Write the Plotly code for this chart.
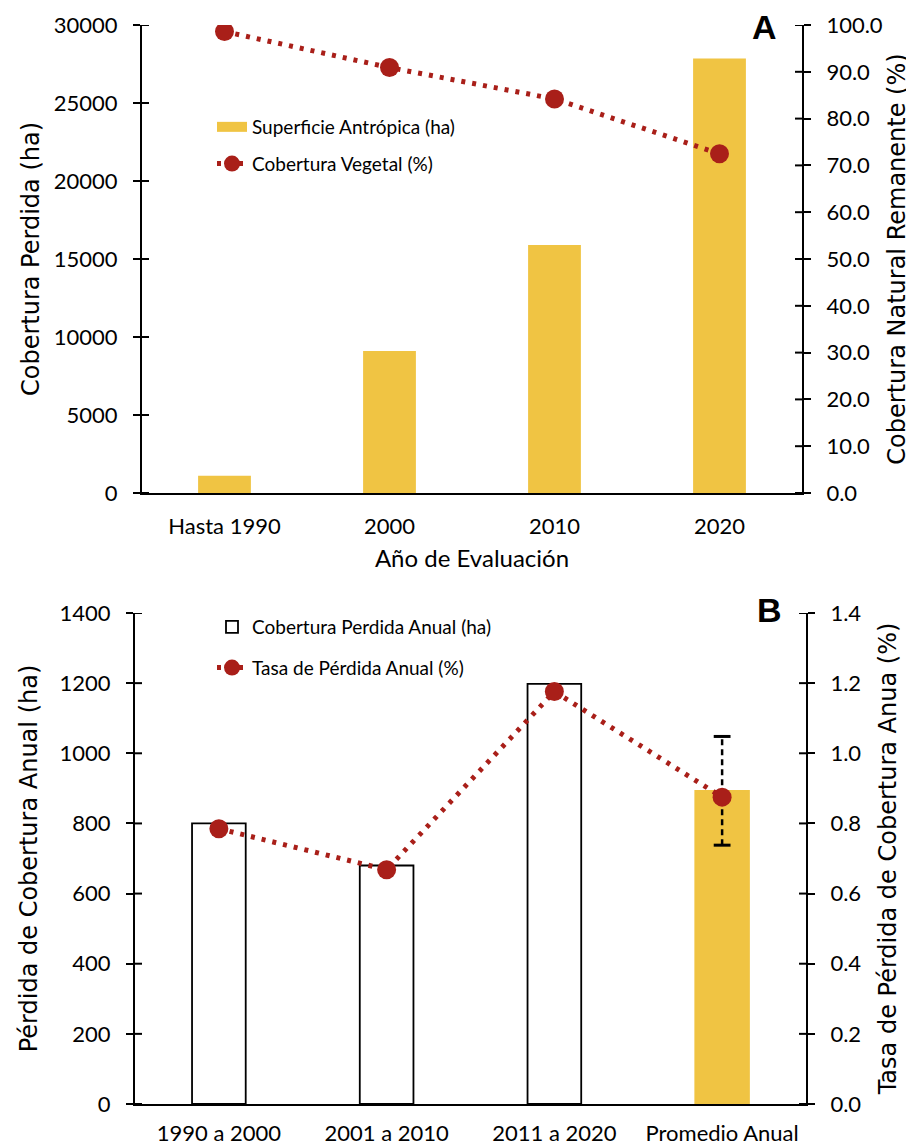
import plotly.graph_objects as go

# ---------------- data ----------------
years_a = ["Hasta 1990", "2000", "2010", "2020"]
sup_antropica = [1100, 9100, 15900, 27850]          # ha
cob_vegetal = [98.6, 90.9, 84.2, 72.5]              # %

periods_b = ["1990 a 2000", "2001 a 2010", "2011 a 2020", "Promedio Anual"]
perdida_anual = [800, 680, 1198, 893]               # ha
perdida_err = 155                                   # ha (error of the mean)
tasa_anual = [0.785, 0.668, 1.176, 0.875]           # %

bar_fill_b = ["white", "white", "white", "#F0C443"]
bar_line_b = ["black", "black", "black", "#F0C443"]

# axis ranges / tick steps
a_left_max, a_left_step = 30000, 5000
a_right_max, a_right_step = 100, 10
b_left_max, b_left_step = 1400, 200
b_right_max, b_right_step = 1.4, 0.2

YEL = "#F0C443"
RED = "#A91F19"
TICKF = dict(family="Lato", size=22, color="black")
TITLEF = dict(family="DejaVu Sans", size=24, color="black")
LEGF = dict(family="Lato", size=19, color="black")

fig = go.Figure()

# ---------------- panel A ----------------
fig.add_trace(go.Bar(x=years_a, y=sup_antropica, name="Superficie Antrópica (ha)",
                     marker=dict(color=YEL, line=dict(width=0)), showlegend=False,
                     xaxis="x", yaxis="y"))
# legend proxy (wide swatch) for the bars
fig.add_trace(go.Scatter(x=[None], y=[None], mode="lines", name="Superficie Antrópica (ha)",
                         line=dict(color=YEL, width=14), hoverinfo="skip",
                         xaxis="x", yaxis="y", legend="legend", legendgroup="a1"))
fig.add_trace(go.Scatter(x=years_a, y=cob_vegetal, name="Cobertura Vegetal (%)",
                         mode="lines+markers",
                         line=dict(color=RED, width=5, dash="4px,7px"),
                         marker=dict(color=RED, size=19),
                         xaxis="x", yaxis="y2", legend="legend", legendgroup="a2"))

# ---------------- panel B ----------------
fig.add_trace(go.Bar(x=periods_b, y=perdida_anual, name="Cobertura Perdida Anual (ha)",
                     marker=dict(color=bar_fill_b, line=dict(color=bar_line_b, width=1.8)),
                     xaxis="x2", yaxis="y3", legend="legend2", legendgroup="b1"))
mean_b = perdida_anual[-1]
fig.add_trace(go.Scatter(x=[periods_b[-1], periods_b[-1]],
                         y=[mean_b - perdida_err, mean_b + perdida_err],
                         mode="lines+markers", showlegend=False, hoverinfo="skip",
                         line=dict(color="black", width=2.5, dash="6px,4px"),
                         marker=dict(symbol="line-ew", size=12,
                                     line=dict(color="black", width=3)),
                         xaxis="x2", yaxis="y3"))
fig.add_trace(go.Scatter(x=periods_b, y=tasa_anual, name="Tasa de Pérdida Anual (%)",
                         mode="lines+markers",
                         line=dict(color=RED, width=5, dash="4px,7px"),
                         marker=dict(color=RED, size=19),
                         xaxis="x2", yaxis="y4", legend="legend2", legendgroup="b2"))

# page body has an 8px margin: the figure occupies the rest of the window
OFF = 8
W, H = 914 - OFF, 1146 - OFF
def fx(px): return (px - OFF) / W
def fy(py): return 1 - (py - OFF) / H

xa_dom = [fx(142), fx(802)]
xb_dom = [fx(135), fx(806)]
ya_dom = [fy(493), fy(25)]
yb_dom = [fy(1104), fy(613)]

# inner halves of the crossing tick marks (axis ticks are drawn outside)
TL = 7 / W
shapes = []
def inner_ticks(xpos, yref, top, step, right):
    n = int(round(top / step))
    for i in range(n + 1):
        v = i * step
        shapes.append(dict(type="line", xref="paper", yref=yref,
                           x0=xpos, x1=xpos - TL if right else xpos + TL,
                           y0=v, y1=v, line=dict(color="black", width=2),
                           layer="above"))

inner_ticks(xa_dom[0], "y", a_left_max, a_left_step, False)
inner_ticks(xa_dom[1], "y2", a_right_max, a_right_step, True)
inner_ticks(xb_dom[0], "y3", b_left_max, b_left_step, False)
inner_ticks(xb_dom[1], "y4", b_right_max, b_right_step, True)

yax_common = dict(showgrid=False, zeroline=False, showline=True, linecolor="black",
                  linewidth=2, ticks="outside", ticklen=7, tickwidth=2,
                  tickcolor="black", tickfont=TICKF, title_font=TITLEF,
                  ticklabelstandoff=11, automargin=False)

fig.update_layout(
    template="none",
    width=W, height=H, margin=dict(l=0, r=0, t=0, b=0, autoexpand=False),
    plot_bgcolor="white", paper_bgcolor="white",
    bargap=0.68,
    shapes=shapes,
    xaxis=dict(domain=xa_dom, anchor="y", type="category", showline=True,
               linecolor="black", linewidth=2, ticks="", tickfont=TICKF,
               ticklabelstandoff=13, showgrid=False, automargin=False,
               title=dict(text="Año de Evaluación",
                          font=dict(family="Lato", size=24, color="black"),
                          standoff=12)),
    yaxis=dict(domain=ya_dom, anchor="x", range=[0, a_left_max], dtick=a_left_step,
               tickformat="d",
               title=dict(text="Cobertura Perdida (ha)", standoff=7), **yax_common),
    yaxis2=dict(domain=ya_dom, anchor="x", overlaying="y", side="right",
                range=[0, a_right_max], dtick=a_right_step, tickformat=".1f",
                title=dict(text="Cobertura Natural Remanente (%)", standoff=6),
                **yax_common),
    xaxis2=dict(domain=xb_dom, anchor="y3", type="category", showline=True,
                linecolor="black", linewidth=2, ticks="", tickfont=TICKF,
                ticklabelstandoff=9, showgrid=False, automargin=False),
    yaxis3=dict(domain=yb_dom, anchor="x2", range=[0, b_left_max], dtick=b_left_step,
                tickformat="d",
                title=dict(text="Pérdida de Cobertura Anual (ha)", standoff=15),
                **yax_common),
    yaxis4=dict(domain=yb_dom, anchor="x2", overlaying="y3", side="right",
                range=[0, b_right_max], dtick=b_right_step, tickformat=".1f",
                title=dict(text="Tasa de Pérdida de Cobertura Anua (%)", standoff=19),
                **yax_common),
    legend=dict(x=fx(212), y=fy(108), xanchor="left", yanchor="top",
                bgcolor="rgba(0,0,0,0)", tracegroupgap=9, font=LEGF),
    legend2=dict(x=fx(212), y=fy(608), xanchor="left", yanchor="top",
                 bgcolor="rgba(0,0,0,0)", tracegroupgap=13, font=LEGF),
    annotations=[
        dict(text="<b>A</b>", xref="paper", yref="paper", x=fx(764), y=fy(27),
             xanchor="center", yanchor="middle", showarrow=False,
             font=dict(family="Liberation Sans", size=34, color="black")),
        dict(text="<b>B</b>", xref="paper", yref="paper", x=fx(769), y=fy(610),
             xanchor="center", yanchor="middle", showarrow=False,
             font=dict(family="Liberation Sans", size=34, color="black")),
    ],
)

fig.write_html("out.html")
